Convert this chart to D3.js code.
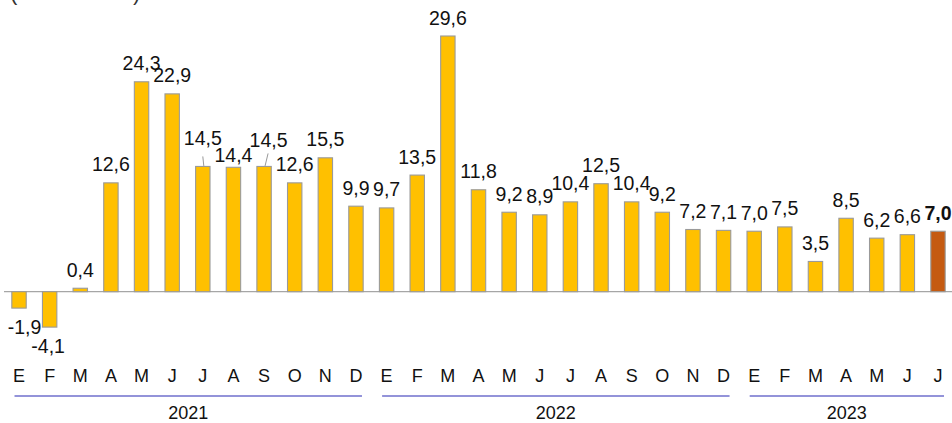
<!DOCTYPE html>
<html><head><meta charset="utf-8">
<script src="https://cdn.jsdelivr.net/npm/d3@7"></script>
<style>
html,body{margin:0;padding:0;background:#fff;}
svg{display:block;font-family:"Liberation Sans",Arial,sans-serif;}
</style></head>
<body>
<svg id="chart" width="952" height="423"></svg>
<script>
// ---- data ----
const years = ["2021", "2022", "2023"];
const months2021 = ["E","F","M","A","M","J","J","A","S","O","N","D"];
const months2022 = ["E","F","M","A","M","J","J","A","S","O","N","D"];
const months2023 = ["E","F","M","A","M","J","J"];
const values2021 = [-1.9, -4.1, 0.4, 12.6, 24.3, 22.9, 14.5, 14.4, 14.5, 12.6, 15.5, 9.9];
const values2022 = [9.7, 13.5, 29.6, 11.8, 9.2, 8.9, 10.4, 12.5, 10.4, 9.2, 7.2, 7.1];
const values2023 = [7.0, 7.5, 3.5, 8.5, 6.2, 6.6, 7.0];
const unitLabel = "(Variación %)";

const monthsByYear = [months2021, months2022, months2023];
const valuesByYear = [values2021, values2022, values2023];
const rows = [];
monthsByYear.forEach((ms, yi) => ms.forEach((m, mi) => rows.push({
  id: years[yi] + "-" + mi, year: years[yi], month: m, value: valuesByYear[yi][mi]
})));
const lastId = rows[rows.length - 1].id;

// label placement tweaks (layout only)
const labelGap = { "2021-6": 21.5, "2021-7": 5.6, "2021-8": 19.7 };
const labelShift = { "2021-0": 5.5, "2021-1": -1.5, "2021-8": 4.5 };
const leaders = [
  { id: "2021-6", dx1: 0, dy1: 10, dx2: 1 },
  { id: "2021-8", dx1: 4, dy1: 13, dx2: 1 }
];

const svg = d3.select("#chart");
const fmt = v => v.toFixed(1).replace(".", ",");

const x = d3.scaleBand().domain(rows.map(d => d.id))
  .range([3.7, 953.3]).paddingInner(0.53).paddingOuter(0.265);
const y = d3.scaleLinear().domain([0, 29.6]).range([291.7, 36]);
const cx = id => x(id) + x.bandwidth() / 2;
const valueOf = id => rows.find(r => r.id === id).value;

// unit label (cut off at the top, as in the source)
svg.append("text").attr("x", 10).attr("y", -0.5)
  .attr("font-size", 22).attr("fill", "#333").text(unitLabel);

// zero line
svg.append("line").attr("x1", 4).attr("x2", 952)
  .attr("y1", y(0)).attr("y2", y(0))
  .attr("stroke", "#a6a6a6").attr("stroke-width", 1.3);

// bars
svg.append("g").selectAll("rect").data(rows).join("rect")
  .attr("x", d => x(d.id))
  .attr("width", x.bandwidth())
  .attr("y", d => y(Math.max(0, d.value)))
  .attr("height", d => Math.abs(y(d.value) - y(0)))
  .attr("fill", d => d.id === lastId ? "#C55A11" : "#FFC000")
  .attr("stroke", "#9a9a9a").attr("stroke-width", 1.1);

// leader lines
svg.append("g").selectAll("line").data(leaders).join("line")
  .attr("x1", d => cx(d.id) + d.dx1)
  .attr("y1", d => y(valueOf(d.id)) - d.dy1)
  .attr("x2", d => cx(d.id) + d.dx2)
  .attr("y2", d => y(valueOf(d.id)) - 0.5)
  .attr("stroke", "#999").attr("stroke-width", 1);

// value labels
svg.append("g").selectAll("text").data(rows).join("text")
  .attr("text-anchor", "middle")
  .attr("font-size", 19.5)
  .attr("font-weight", d => d.id === lastId ? "bold" : "normal")
  .attr("fill", "#111")
  .attr("x", d => cx(d.id) + (labelShift[d.id] || 0))
  .attr("y", d => d.value >= 0
      ? y(d.value) - (labelGap[d.id] !== undefined ? labelGap[d.id] : 11.5)
      : y(d.value) + 25.5)
  .text(d => fmt(d.value));

// month labels
svg.append("g").selectAll("text").data(rows).join("text")
  .attr("text-anchor", "middle").attr("font-size", 18).attr("fill", "#111")
  .attr("x", d => cx(d.id)).attr("y", 382)
  .text(d => d.month);

// year group lines + labels
const groups = years.map(yr => {
  const ids = rows.filter(d => d.year === yr).map(d => d.id);
  return { year: yr, x1: cx(ids[0]) - 4.5, x2: cx(ids[ids.length - 1]) + 6 };
});
svg.append("g").selectAll("line").data(groups).join("line")
  .attr("x1", d => d.x1).attr("x2", d => d.x2)
  .attr("y1", 396).attr("y2", 396)
  .attr("stroke", "#6f6fcc").attr("stroke-width", 1.5);
svg.append("g").selectAll("text").data(groups).join("text")
  .attr("text-anchor", "middle").attr("font-size", 18).attr("fill", "#111")
  .attr("x", d => (d.x1 + d.x2) / 2).attr("y", 419)
  .text(d => d.year);
</script>
</body></html>
